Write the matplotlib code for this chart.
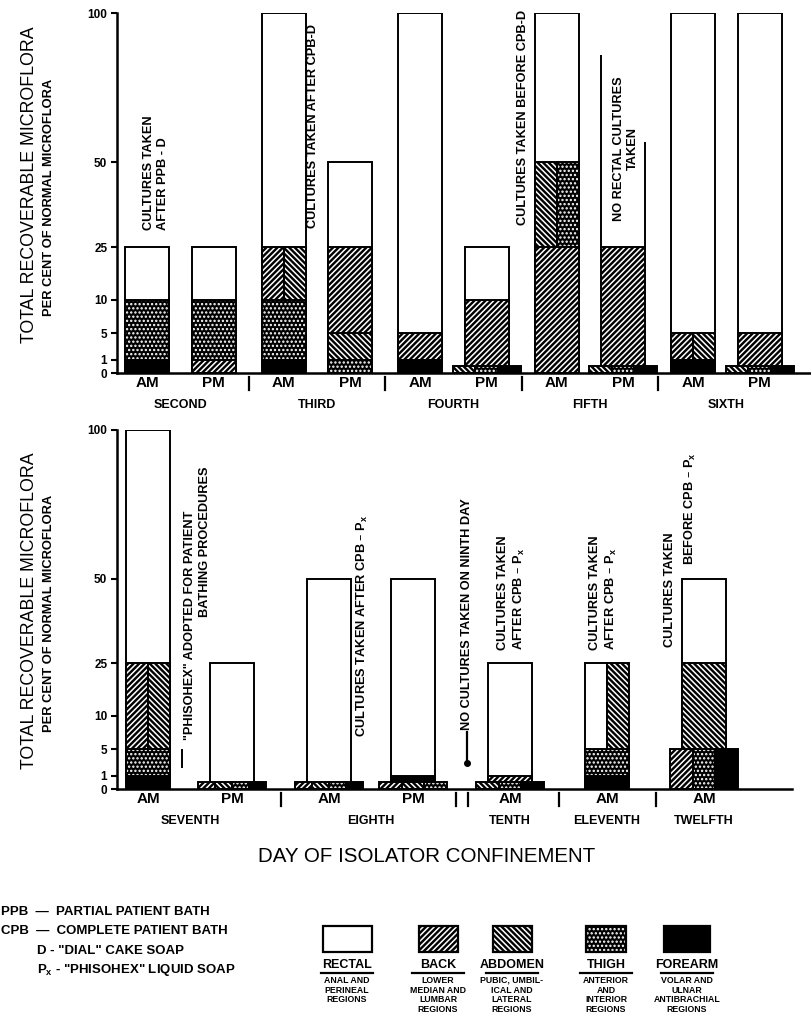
import matplotlib
matplotlib.use('Agg')
import matplotlib.pyplot as plt
import numpy as np
from matplotlib.patches import Rectangle

plt.rcParams['font.family'] = ['Liberation Sans', 'DejaVu Sans']
plt.rcParams['mathtext.default'] = 'regular'
plt.rcParams['hatch.linewidth'] = 1.1

# ---- data ----------------------------------------------------------------
regions = ['RECTAL', 'BACK', 'ABDOMEN', 'THIGH', 'FOREARM']
region_notes = ['ANAL AND\nPERINEAL\nREGIONS',
                'LOWER\nMEDIAN AND\nLUMBAR\nREGIONS',
                'PUBIC, UMBIL-\nICAL AND\nLATERAL\nREGIONS',
                'ANTERIOR\nAND\nINTERIOR\nREGIONS',
                'VOLAR AND\nULNAR\nANTIBRACHIAL\nREGIONS']

# per cent of normal microflora (0.5 = trace, 0 = none / not cultured)
top_days = ['SECOND', 'THIRD', 'FOURTH', 'FIFTH', 'SIXTH']
top_day_num = [2, 3, 4, 5, 6]
top_times = ['AM', 'PM', 'AM', 'PM', 'AM', 'PM', 'AM', 'PM', 'AM', 'PM']
top_day_idx = [0, 0, 1, 1, 2, 2, 3, 3, 4, 4]
top_rectal = [25, 25, 100, 50, 100, 25, 100, 0, 100, 100]
top_back = [0, 1, 25, 25, 5, 10, 25, 25, 5, 5]
top_abdomen = [0, 0, 25, 5, 0, 0.5, 50, 0.5, 5, 0.5]
top_thigh = [10, 10, 10, 1, 0, 0.5, 50, 0.5, 0, 0.5]
top_forearm = [1, 0, 1, 0, 1, 0.5, 0, 0.5, 1, 0.5]

bot_days = ['SEVENTH', 'EIGHTH', 'TENTH', 'ELEVENTH', 'TWELFTH']
bot_day_num = [7, 8, 10, 11, 12]
bot_times = ['AM', 'PM', 'AM', 'PM', 'AM', 'AM', 'AM']
bot_day_idx = [0, 0, 1, 1, 2, 3, 4]
bot_rectal = [100, 25, 50, 50, 25, 25, 50]
bot_back = [25, 0.5, 0.5, 0.5, 1, 0, 5]
bot_abdomen = [25, 0.5, 0.5, 0.5, 0.5, 25, 25]
bot_thigh = [5, 0.5, 0.5, 0.5, 0.5, 5, 5]
bot_forearm = [1, 0.5, 0.5, 1, 0.5, 1, 5]

tick_vals = [0, 1, 5, 10, 25, 50, 100]

# ---- styles --------------------------------------------------------------
styles = {'RECTAL': ('white', None),
          'BACK': ('black', '//////'),
          'ABDOMEN': ('black', '\\\\\\\\\\\\'),
          'THIGH': ('black', '....'),
          'FOREARM': ('black', None)}

# the original y axis is stretched by hand: position of each tick (px above 0)
tick_pos = [0, 13.3, 40, 73, 126, 210.5, 359.5]


def fwd(v):
    return np.interp(v, tick_vals, tick_pos)


def inv(p):
    return np.interp(p, tick_pos, tick_vals)


def draw_panel(ax, days, day_num, times, day_idx, series, x0, step, gap, width_px):
    ax.set_xlim(0, width_px)
    ax.set_yscale('function', functions=(fwd, inv))
    ax.set_ylim(0, 100)
    centers = [x0 + step * i + gap * d for i, d in enumerate(day_idx)]
    bw, wide = 44, 68
    for k, c in enumerate(centers):
        vals = [s[k] for s in series]
        levels = sorted({v for v in vals if v > 0}, reverse=True)
        for lev in levels:
            group = [r for r, v in zip(regions, vals) if v == lev]
            w = wide if len(group) >= 3 else bw
            cw = w / len(group)
            for j, r in enumerate(group):
                left = c - w / 2 + j * cw
                fc, hatch = styles[r]
                ax.bar(left, lev, width=cw, align='edge', color=fc, edgecolor='white',
                       hatch=hatch, linewidth=0, zorder=2)
                ax.bar(left, lev, width=cw, align='edge', fill=False,
                       edgecolor='black', linewidth=1.4, zorder=2)

    ax.set_xticks(centers)
    ax.set_xticklabels(times, fontsize=11, fontweight='bold')
    ax.tick_params(axis='x', length=0, pad=2)
    ax.set_yticks(tick_vals)
    ax.set_yticklabels([str(v) for v in tick_vals], fontsize=8.5, fontweight='bold')
    ax.yaxis.set_minor_locator(matplotlib.ticker.NullLocator())
    ax.tick_params(axis='y', direction='out', length=4, width=1.5, pad=3)
    for s in ['top', 'right']:
        ax.spines[s].set_visible(False)
    for s in ['left', 'bottom']:
        ax.spines[s].set_linewidth(1.8)

    tr = ax.get_xaxis_transform()
    # day names and separators between days
    for d, name in enumerate(days):
        xs = [c for c, di in zip(centers, day_idx) if di == d]
        ax.text(np.mean(xs), -0.09, name, transform=tr, ha='center', va='center',
                fontsize=9, fontweight='bold')
    for d in range(len(days) - 1):
        last = max(c for c, di in zip(centers, day_idx) if di == d)
        first = min(c for c, di in zip(centers, day_idx) if di == d + 1)
        mid = (last + first) / 2
        marks = [mid] if day_num[d + 1] - day_num[d] == 1 else [mid - 6, mid + 6]
        for m in marks:
            ax.plot([m, m], [-0.011, -0.047], transform=tr, color='black', lw=1.6,
                    clip_on=False)
    return centers, tr


fig = plt.figure(figsize=(8.11, 10.18), dpi=100)
W, H = 811, 1018

ax1 = fig.add_axes([117 / W, (H - 373) / H, (810 - 117) / W, 359.5 / H])
c1, tr1 = draw_panel(ax1, top_days, top_day_num, top_times, top_day_idx,
                     [top_rectal, top_back, top_abdomen, top_thigh, top_forearm],
                     30, 66.5, 3.5, 810 - 117)

ax2 = fig.add_axes([117 / W, (H - 789) / H, (792 - 117) / W, 359.5 / H])
c2, tr2 = draw_panel(ax2, bot_days, bot_day_num, bot_times, bot_day_idx,
                     [bot_rectal, bot_back, bot_abdomen, bot_thigh, bot_forearm],
                     31, 84, 13, 792 - 117)

note = dict(rotation=90, ha='center', va='bottom', fontsize=9.2, fontweight='bold')
sub = 'P$_x$'

# top panel notes
ax1.text(39, 0.398, 'CULTURES TAKEN\nAFTER PPB - D', transform=tr1,
         multialignment='left', **note)
ax1.text(196, 0.404, 'CULTURES TAKEN AFTER CPB-D', transform=tr1, **note)
ax1.text(406, 0.412, 'CULTURES TAKEN BEFORE CPB-D', transform=tr1, **note)
ax1.text(509, 0.624, 'NO RECTAL CULTURES\nTAKEN', transform=tr1, rotation=90,
         ha='center', va='center', multialignment='center', fontsize=9.2,
         fontweight='bold')
ax1.vlines(c1[7] - 22, 25, 86, color='black', lw=1.4)
ax1.vlines(c1[7] + 22, 25, 57, color='black', lw=1.4)

# bottom panel notes
ax2.text(73, 0.136, '"PHISOHEX" ADOPTED FOR PATIENT', transform=tr2, **note)
ax2.text(88, 0.478, 'BATHING PROCEDURES', transform=tr2, **note)
ax2.plot([65, 65], [0.061, 0.108], transform=tr2, color='black', lw=1.4)
ax2.text(245, 0.144, 'CULTURES TAKEN AFTER CPB – ' + sub, transform=tr2, **note)
ax2.text(350, 0.164, 'NO CULTURES TAKEN ON NINTH DAY', transform=tr2, **note)
ax2.plot([350, 350], [0.072, 0.158], transform=tr2, color='black', lw=1.6)
ax2.plot([350], [0.072], 'o', ms=4, color='black', transform=tr2)
ax2.text(395, 0.386, 'CULTURES TAKEN\nAFTER CPB – ' + sub, transform=tr2,
         multialignment='left', **note)
ax2.text(487, 0.386, 'CULTURES TAKEN\nAFTER CPB – ' + sub, transform=tr2,
         multialignment='left', **note)
ax2.text(553, 0.394, 'CULTURES TAKEN', transform=tr2, **note)
ax2.text(573, 0.622, 'BEFORE CPB – ' + sub, transform=tr2, **note)

# ---- figure-level text and key ---------------------------------------------
fa = fig.add_axes([0, 0, 1, 1])
fa.set_xlim(0, W)
fa.set_ylim(H, 0)
fa.axis('off')

for yc, yc2 in [(185, 197), (611, 613)]:
    fa.text(30, yc, 'TOTAL RECOVERABLE MICROFLORA', rotation=90, ha='center',
            va='center', fontsize=12.8)
    fa.text(49, yc2, 'PER CENT OF NORMAL MICROFLORA', rotation=90, ha='center',
            va='center', fontsize=9.3, fontweight='bold')

fa.text(427, 857, 'DAY OF ISOLATOR CONFINEMENT', ha='center', va='center',
        fontsize=14.8)

abbrev = ['PPB  —  PARTIAL PATIENT BATH', 'CPB  —  COMPLETE PATIENT BATH',
          'D - "DIAL" CAKE SOAP', sub + ' - "PHISOHEX" LIQUID SOAP']
for k, (t, xx) in enumerate(zip(abbrev, [1, 1, 37, 37])):
    fa.text(xx, 912 + 19.5 * k, t, ha='left', va='center', fontsize=9.5,
            fontweight='bold')

key_centers = [347, 438, 512, 606, 687]
key_widths = [49, 39, 39, 40, 46]
for r, cx, bw, txt in zip(regions, key_centers, key_widths, region_notes):
    fc, hatch = styles[r]
    fa.add_patch(Rectangle((cx - bw / 2, 926), bw, 26, facecolor=fc, edgecolor='white',
                           hatch=hatch, linewidth=0))
    fa.add_patch(Rectangle((cx - bw / 2, 926), bw, 26, fill=False, edgecolor='black',
                           linewidth=1.6))
    fa.text(cx, 965, r, ha='center', va='center', fontsize=9, fontweight='bold')
    fa.plot([cx - 26, cx + 26], [972.5, 972.5], color='black', lw=1.6)
    fa.text(cx, 976, txt, ha='center', va='top', fontsize=6.3, fontweight='bold',
            linespacing=1.08)

fig.savefig('out.png', dpi=100)
